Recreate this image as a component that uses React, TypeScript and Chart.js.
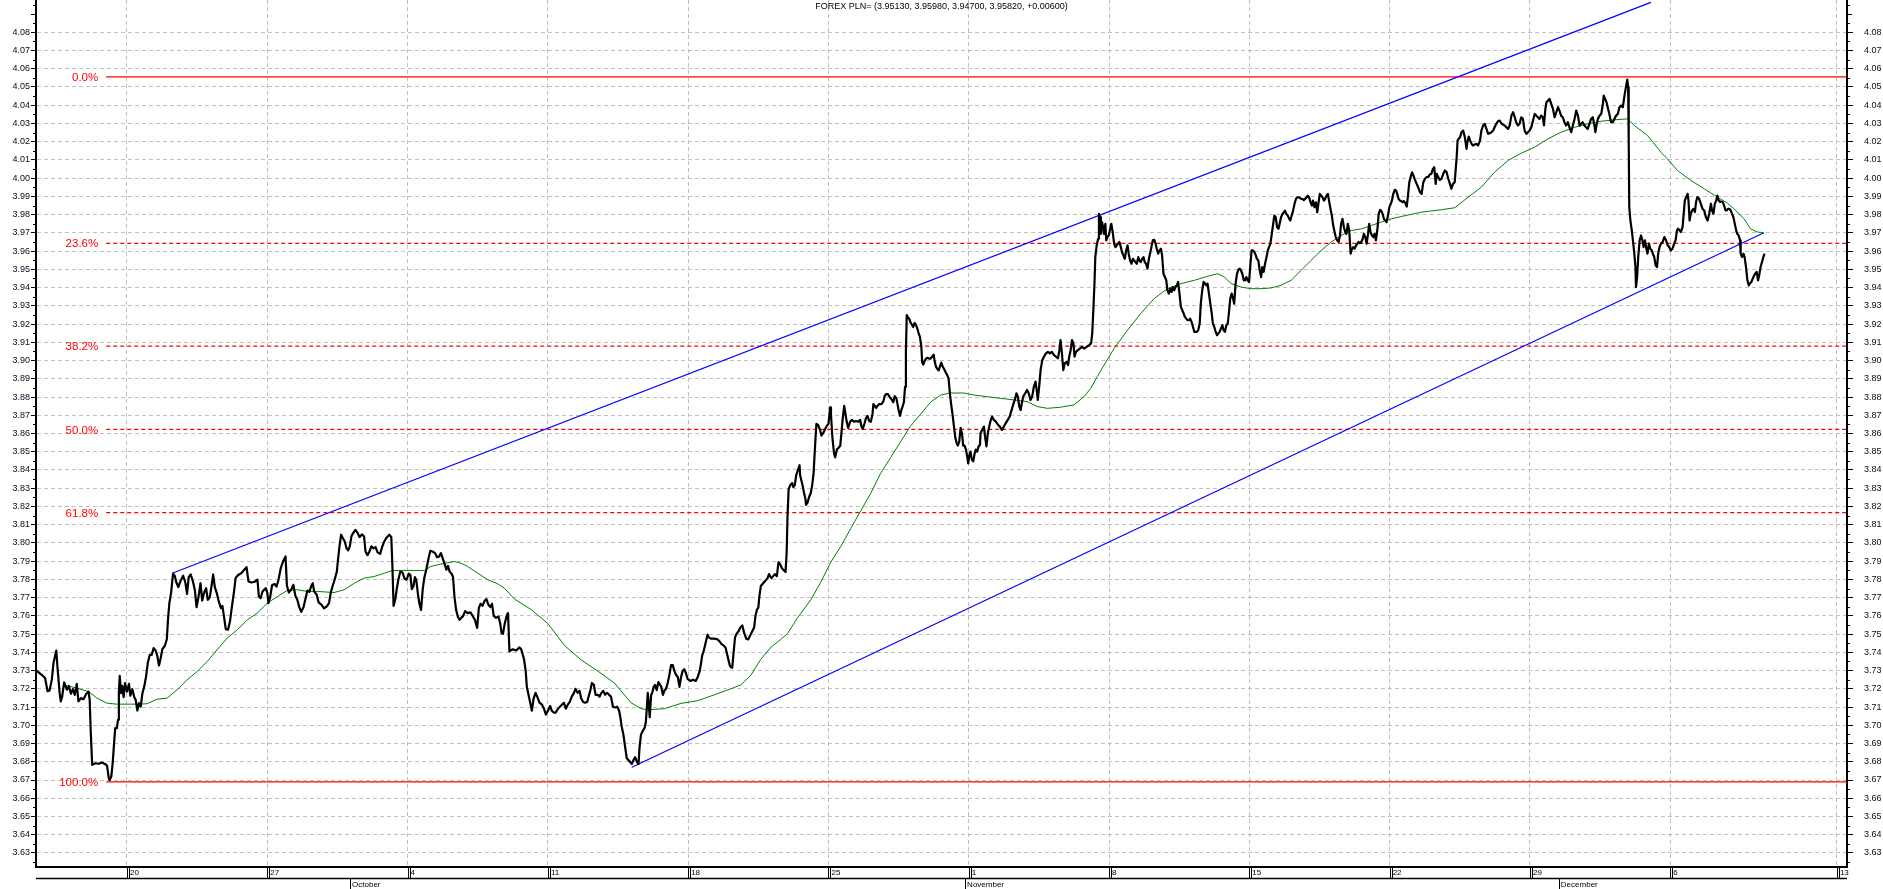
import React, { useEffect, useRef } from 'react';
import { Chart, registerables } from 'chart.js';

Chart.register(...registerables);

// ---- chart data (x = trading days from Monday 20 Sep, y = EUR/PLN rate) ----
const TITLE = 'FOREX PLN= (3.95130, 3.95980, 3.94700, 3.95820, +0.00600)';
const X_MIN = -3.243;
const X_MAX = 61.3;
const Y_MIN = 3.6223;
const Y_MAX = 4.0977;

const WEEK_TICKS = [0, 5, 10, 15, 20, 25, 30, 35, 40, 45, 50, 55, 60.94];
const WEEK_LABELS = ['20', '27', '4', '11', '18', '25', '1', '8', '15', '22', '29', '6', '13'];
const MONTH_TICKS = [7.95, 29.87, 51.03];
const MONTH_LABELS = ['October', 'November', 'December'];

const PRICE_TICKS = [
  3.63, 3.64, 3.65, 3.66, 3.67, 3.68, 3.69, 3.7, 3.71, 3.72, 3.73, 3.74, 3.75, 3.76, 3.77, 3.78,
  3.79, 3.8, 3.81, 3.82, 3.83, 3.84, 3.85, 3.86, 3.87, 3.88, 3.89, 3.9, 3.91, 3.92, 3.93, 3.94,
  3.95, 3.96, 3.97, 3.98, 3.99, 4.0, 4.01, 4.02, 4.03, 4.04, 4.05, 4.06, 4.07, 4.08,
];

const FIB_HIGH = 4.0555;
const FIB_LOW = 3.669;
const FIB_LEVELS = [0, 23.6, 38.2, 50, 61.8, 100];
const FIB_START = -0.74;

const UPPER_CHANNEL = [[1.61, 3.7834], [54.31, 4.0964]];
const LOWER_CHANNEL = [[17.99, 3.677], [58.34, 3.9701]];

const PRICE = [
  [-3.24,3.7301],[-3.04,3.7277],[-2.92,3.7259],[-2.83,3.7187],[-2.76,3.7191],[-2.68,3.7249],[-2.62,3.7341],[-2.52,3.741],[-2.48,3.7323],[-2.4,3.7176],[-2.36,3.7131],[-2.31,3.7158],[-2.24,3.7235],[-2.14,3.7195],[-2.07,3.7216],[-2.0,3.7173],[-1.93,3.7198],[-1.86,3.7167],[-1.79,3.7227],[-1.73,3.7131],[-1.64,3.7149],[-1.55,3.7143],[-1.45,3.7173],[-1.37,3.7185],[-1.33,3.714],[-1.29,3.6957],[-1.24,3.6783],[-1.13,3.6792],[-1.01,3.6789],[-0.89,3.6796],[-0.77,3.6787],[-0.71,3.6778],[-0.65,3.671],[-0.62,3.6699],[-0.56,3.6719],[-0.51,3.6792],[-0.46,3.6902],[-0.42,3.6984],[-0.36,3.6984],[-0.32,3.703],[-0.29,3.7176],[-0.26,3.7271],[-0.21,3.7176],[-0.17,3.7216],[-0.12,3.7154],[-0.07,3.7231],[0.0,3.7185],[0.07,3.7227],[0.12,3.7162],[0.19,3.7198],[0.26,3.7154],[0.31,3.714],[0.37,3.7081],[0.43,3.7121],[0.49,3.7103],[0.55,3.7176],[0.62,3.7216],[0.68,3.7268],[0.74,3.7341],[0.81,3.7386],[0.88,3.7386],[0.95,3.7423],[1.02,3.741],[1.08,3.7381],[1.14,3.7328],[1.2,3.7368],[1.26,3.7418],[1.35,3.7436],[1.42,3.7472],[1.46,3.7578],[1.51,3.767],[1.57,3.7725],[1.64,3.7831],[1.7,3.782],[1.76,3.7783],[1.83,3.7758],[1.9,3.7789],[2.0,3.782],[2.08,3.7783],[2.14,3.7721],[2.2,3.7812],[2.27,3.7827],[2.35,3.7789],[2.42,3.774],[2.48,3.7648],[2.55,3.7706],[2.62,3.7779],[2.68,3.7684],[2.75,3.7728],[2.82,3.7752],[2.88,3.7688],[2.95,3.7702],[3.01,3.7761],[3.07,3.7827],[3.13,3.7758],[3.2,3.7725],[3.27,3.7679],[3.35,3.7642],[3.4,3.7655],[3.46,3.7593],[3.52,3.7527],[3.6,3.7524],[3.67,3.7569],[3.74,3.7652],[3.81,3.7728],[3.87,3.7807],[3.95,3.7823],[4.07,3.7834],[4.18,3.7853],[4.26,3.7867],[4.33,3.7789],[4.43,3.7783],[4.55,3.7787],[4.65,3.7798],[4.7,3.7706],[4.76,3.7697],[4.83,3.7734],[4.94,3.7752],[5.0,3.7728],[5.04,3.767],[5.1,3.7702],[5.17,3.7768],[5.26,3.7775],[5.33,3.7761],[5.4,3.7798],[5.48,3.7862],[5.56,3.7898],[5.65,3.7926],[5.7,3.7765],[5.77,3.7728],[5.86,3.7747],[5.93,3.777],[6.0,3.771],[6.07,3.7688],[6.14,3.7648],[6.21,3.7622],[6.29,3.7648],[6.36,3.7692],[6.43,3.7739],[6.5,3.7732],[6.57,3.7765],[6.62,3.7779],[6.67,3.7734],[6.76,3.7716],[6.83,3.7674],[6.93,3.7661],[7.02,3.7641],[7.12,3.7652],[7.2,3.767],[7.26,3.7725],[7.33,3.7765],[7.4,3.7798],[7.48,3.7844],[7.52,3.7908],[7.57,3.7977],[7.63,3.8045],[7.69,3.8027],[7.76,3.8008],[7.82,3.7972],[7.88,3.7959],[7.94,3.7981],[8.0,3.8036],[8.06,3.8054],[8.14,3.8072],[8.21,3.8057],[8.29,3.8032],[8.37,3.8047],[8.45,3.8035],[8.5,3.7953],[8.57,3.7933],[8.64,3.7953],[8.71,3.7981],[8.79,3.797],[8.86,3.7977],[8.93,3.7948],[9.02,3.794],[9.1,3.7981],[9.17,3.8008],[9.24,3.8027],[9.35,3.8045],[9.42,3.8032],[9.46,3.7871],[9.5,3.7655],[9.56,3.7688],[9.61,3.7743],[9.67,3.7798],[9.74,3.7842],[9.82,3.7838],[9.89,3.7805],[9.96,3.7798],[10.04,3.7831],[10.1,3.7825],[10.15,3.7747],[10.21,3.7761],[10.26,3.7812],[10.31,3.7798],[10.38,3.7706],[10.43,3.7661],[10.48,3.7633],[10.54,3.7747],[10.6,3.7812],[10.67,3.7856],[10.74,3.7911],[10.81,3.7957],[10.89,3.7953],[10.98,3.7944],[11.05,3.7922],[11.12,3.7925],[11.19,3.7944],[11.26,3.7911],[11.32,3.7885],[11.38,3.7853],[11.44,3.7874],[11.5,3.7842],[11.57,3.7831],[11.62,3.7812],[11.67,3.7706],[11.73,3.7633],[11.79,3.7597],[11.85,3.7578],[11.9,3.7587],[11.98,3.76],[12.05,3.7626],[12.14,3.7615],[12.24,3.7619],[12.33,3.7597],[12.4,3.7578],[12.48,3.7534],[12.54,3.7644],[12.6,3.7666],[12.67,3.7655],[12.74,3.7681],[12.81,3.7692],[12.88,3.7661],[12.95,3.7648],[13.01,3.7666],[13.07,3.76],[13.15,3.7589],[13.24,3.7597],[13.3,3.756],[13.35,3.7505],[13.4,3.7502],[13.46,3.7556],[13.54,3.7606],[13.58,3.7615],[13.63,3.7405],
  [13.67,3.741],[13.75,3.7417],[13.87,3.741],[13.99,3.7427],[14.05,3.7417],[14.15,3.7362],[14.21,3.7297],[14.25,3.7211],[14.31,3.7167],[14.37,3.7124],[14.43,3.708],[14.49,3.7146],[14.56,3.7178],[14.62,3.7157],[14.7,3.7124],[14.79,3.7113],[14.86,3.7091],[14.93,3.7059],[15.0,3.708],[15.08,3.7106],[15.14,3.708],[15.21,3.707],[15.28,3.707],[15.36,3.7091],[15.43,3.7102],[15.5,3.7113],[15.57,3.7124],[15.64,3.7091],[15.71,3.7113],[15.78,3.7128],[15.85,3.7157],[15.93,3.7178],[15.98,3.72],[16.06,3.7178],[16.13,3.7189],[16.19,3.7146],[16.26,3.7128],[16.33,3.7124],[16.4,3.7128],[16.45,3.7157],[16.51,3.7189],[16.57,3.7232],[16.64,3.7222],[16.7,3.7167],[16.78,3.7167],[16.84,3.7157],[16.91,3.7178],[16.97,3.7189],[17.04,3.7167],[17.11,3.7178],[17.18,3.7167],[17.25,3.7157],[17.32,3.7102],[17.4,3.7098],[17.47,3.7102],[17.54,3.708],[17.59,3.7037],[17.63,3.6994],[17.69,3.695],[17.75,3.6885],[17.81,3.682],[17.87,3.6809],[17.94,3.6798],[17.99,3.6788],[18.05,3.6809],[18.11,3.6825],[18.18,3.6798],[18.23,3.6788],[18.27,3.6885],[18.32,3.695],[18.39,3.6972],[18.44,3.6983],[18.49,3.7015],[18.52,3.708],[18.56,3.7178],[18.59,3.7124],[18.63,3.7045],[18.68,3.7167],[18.72,3.7178],[18.77,3.7211],[18.82,3.7222],[18.88,3.7193],[18.94,3.7237],[19.0,3.7222],[19.04,3.7211],[19.1,3.7167],[19.15,3.7189],[19.21,3.72],[19.27,3.7232],[19.33,3.7276],[19.39,3.733],[19.45,3.733],[19.51,3.7297],[19.57,3.7276],[19.63,3.7265],[19.69,3.7211],[19.74,3.7259],[19.8,3.7297],[19.86,3.7308],[19.92,3.7287],[19.98,3.7254],[20.08,3.7243],[20.17,3.725],[20.27,3.7243],[20.34,3.7265],[20.41,3.7297],[20.46,3.7341],[20.5,3.7384],[20.55,3.7406],[20.6,3.7438],[20.65,3.7471],[20.69,3.7497],[20.74,3.7482],[20.81,3.7475],[20.93,3.7475],[21.05,3.7471],[21.12,3.746],[21.19,3.7445],[21.26,3.7438],[21.33,3.7427],[21.38,3.7395],[21.43,3.7362],[21.48,3.733],[21.52,3.7319],[21.57,3.7315],[21.61,3.7384],[21.67,3.7482],[21.73,3.7504],[21.79,3.7514],[21.86,3.7536],[21.93,3.7547],[22.0,3.7504],[22.07,3.7475],[22.14,3.7471],[22.21,3.7493],[22.28,3.7514],[22.35,3.7536],[22.4,3.7601],[22.45,3.7634],[22.5,3.7645],[22.54,3.771],[22.59,3.7764],[22.65,3.7775],[22.71,3.7786],[22.77,3.7796],[22.83,3.7807],[22.88,3.7829],[22.92,3.7818],[22.97,3.7807],[23.03,3.7818],[23.09,3.7829],[23.16,3.7818],[23.22,3.7894],[23.28,3.7883],[23.34,3.7862],[23.4,3.7851],[23.47,3.784],[23.51,3.7948],[23.54,3.8144],[23.58,3.8295],[23.64,3.8317],[23.71,3.8328],[23.75,3.8306],[23.8,3.8317],[23.85,3.8371],[23.92,3.8404],[23.97,3.8426],[23.99,3.8371],[24.04,3.8339],[24.09,3.8306],[24.13,3.8274],[24.18,3.8241],[24.2,3.8208],[24.25,3.8219],[24.31,3.8252],[24.37,3.8274],[24.42,3.8317],[24.47,3.8382],[24.5,3.8469],[24.54,3.8578],[24.57,3.8653],[24.63,3.8647],[24.7,3.862],[24.75,3.8589],[24.8,3.8599],[24.87,3.862],[24.94,3.8642],[25.0,3.8653],[25.06,3.8743],[25.09,3.8704],[25.14,3.8578],[25.2,3.849],[25.24,3.8469],[25.3,3.8512],[25.36,3.8522],[25.42,3.8533],[25.46,3.8599],[25.51,3.8686],[25.56,3.8752],[25.61,3.8704],[25.65,3.8664],[25.7,3.8631],[25.77,3.8664],[25.84,3.8675],[25.91,3.8664],[25.98,3.8669],[26.06,3.8664],[26.13,3.8675],[26.17,3.8642],[26.22,3.8625],[26.28,3.8653],[26.34,3.8686],[26.39,3.8697],[26.45,3.8669],[26.51,3.8664],[26.57,3.8707],[26.6,3.8761],[26.65,3.8751],[26.7,3.874],[26.74,3.8751],[26.81,3.8761],[26.89,3.8761],[26.96,3.8777],[27.0,3.8805],[27.05,3.8816],[27.12,3.8816],[27.19,3.8798],[27.27,3.8783],[27.31,3.8772],[27.36,3.8805],[27.42,3.8794],[27.46,3.8761],[27.5,3.8729],[27.55,3.8697],[27.6,3.8729],[27.65,3.8751],[27.69,3.8774],[27.73,3.8856],[27.76,3.9054],[27.79,3.9249],[27.83,3.9238],[27.88,3.9228],[27.93,3.9206],[27.98,3.9195],[28.02,3.9184],[28.07,3.9206],[28.12,3.9195],[28.17,3.9174],[28.21,3.9152],[28.26,3.913],[28.31,3.9076],[28.34,3.8989],[28.38,3.8978],[28.43,3.9],[28.48,3.9011],[28.52,3.9015],[28.58,3.9011],[28.64,3.9011],[28.7,3.9022],[28.75,3.9032],[28.78,3.9],[28.83,3.8967],[28.88,3.8954],[28.93,3.8946],[28.97,3.8967],[29.02,3.8989],[29.07,3.8967],[29.12,3.8954],[29.18,3.8935],[29.23,3.8921],[29.28,3.8902],[29.33,3.8816],[29.38,3.8751],[29.42,3.8707],[29.47,3.8642],[29.52,3.8578],[29.57,3.8546],[29.61,3.8534],[29.66,3.8556],[29.71,3.8631],[29.76,3.8599],[29.8,3.8534],[29.85,3.8534],[29.9,3.8512],[29.95,3.8469],[29.98,3.8436],[30.03,3.849],[30.06,3.8501],[30.11,3.8457],[30.16,3.8447],[30.21,3.849],[30.25,3.8512],[30.3,3.8501],[30.35,3.8529],[30.4,3.8538],
  [30.42,3.8602],[30.48,3.862],[30.54,3.8638],[30.58,3.8584],[30.63,3.8529],[30.68,3.8602],[30.73,3.8638],[30.77,3.8666],[30.83,3.8693],[30.89,3.8675],[30.96,3.8666],[31.04,3.8648],[31.11,3.8638],[31.18,3.862],[31.25,3.8638],[31.32,3.8657],[31.39,3.8675],[31.46,3.8693],[31.51,3.872],[31.58,3.8757],[31.64,3.8784],[31.7,3.882],[31.75,3.8802],[31.8,3.8748],[31.85,3.8729],[31.89,3.8766],[31.94,3.8802],[32.01,3.882],[32.08,3.8839],[32.14,3.882],[32.2,3.8784],[32.26,3.8802],[32.32,3.8857],[32.38,3.8884],[32.42,3.8839],[32.46,3.8784],[32.51,3.8857],[32.56,3.8948],[32.62,3.9002],[32.68,3.9021],[32.75,3.9039],[32.82,3.9048],[32.89,3.9039],[32.96,3.9048],[33.04,3.903],[33.11,3.9021],[33.18,3.9012],[33.23,3.9057],[33.27,3.9112],[33.32,3.9039],[33.37,3.8948],[33.42,3.8984],[33.49,3.8993],[33.54,3.8975],[33.58,3.9021],[33.63,3.9057],[33.68,3.9112],[33.73,3.9094],[33.77,3.9021],[33.82,3.9048],[33.89,3.9057],[33.96,3.9066],[34.04,3.9075],[34.11,3.9066],[34.2,3.9075],[34.29,3.9085],[34.36,3.9094],[34.4,3.9148],[34.44,3.9276],[34.48,3.9422],[34.51,3.9567],[34.56,3.9631],[34.61,3.9668],[34.64,3.9804],[34.68,3.9786],[34.71,3.9695],[34.75,3.9759],[34.79,3.9731],[34.82,3.9695],[34.87,3.975],[34.9,3.9659],[34.94,3.9677],[34.99,3.9686],[35.04,3.9722],[35.08,3.975],[35.13,3.9704],[35.18,3.9641],[35.23,3.9622],[35.27,3.9631],[35.32,3.9641],[35.37,3.965],[35.42,3.9622],[35.46,3.9595],[35.51,3.9577],[35.56,3.9558],[35.61,3.9604],[35.66,3.9631],[35.7,3.9586],[35.75,3.9549],[35.8,3.9531],[35.85,3.9558],[35.89,3.9549],[35.94,3.954],[35.99,3.9531],[36.04,3.9567],[36.08,3.9549],[36.13,3.954],[36.18,3.9558],[36.23,3.9567],[36.27,3.954],[36.32,3.9531],[36.37,3.9504],[36.42,3.9558],[36.46,3.9586],[36.51,3.9622],[36.56,3.9659],[36.61,3.9662],[36.66,3.9641],[36.7,3.9613],[36.75,3.9586],[36.8,3.9604],[36.85,3.9613],[36.89,3.9577],[36.94,3.9476],[36.99,3.9458],[37.04,3.944],[37.08,3.9385],[37.13,3.9367],[37.18,3.9394],[37.23,3.9376],[37.27,3.9403],[37.32,3.9385],[37.37,3.9403],[37.42,3.9413],[37.46,3.9431],[37.51,3.9367],[37.56,3.9294],[37.61,3.9276],[37.66,3.9258],[37.7,3.924],[37.75,3.923],[37.8,3.9221],[37.85,3.9221],[37.89,3.923],[37.94,3.9212],[37.99,3.9185],[38.04,3.9157],[38.08,3.9157],[38.13,3.9157],[38.18,3.9167],[38.23,3.9203],[38.27,3.9312],[38.32,3.9385],[38.37,3.9431],[38.42,3.9422],[38.46,3.9413],[38.51,3.9422],[38.56,3.9367],[38.61,3.9312],[38.66,3.9258],[38.7,3.9203],[38.75,3.9185],[38.8,3.9157],[38.85,3.9139],[38.89,3.9148],[38.94,3.9157],[38.99,3.9176],[39.04,3.9194],[39.08,3.9167],[39.13,3.9157],[39.18,3.9194],[39.23,3.9203],[39.27,3.9258],[39.32,3.934],[39.37,3.9367],[39.42,3.934],[39.46,3.9312],[39.51,3.9422],[39.56,3.9476],[39.61,3.9498],[39.66,3.9504],[39.7,3.9495],[39.75,3.9476],[39.8,3.944],[39.85,3.944],[39.89,3.9458],[39.94,3.944],[39.99,3.9431],[40.04,3.9531],[40.08,3.9604],[40.13,3.9604],[40.18,3.9595],[40.23,3.9577],[40.27,3.9558],[40.32,3.9549],[40.37,3.9495],[40.42,3.9458],[40.46,3.9513],[40.51,3.9486],[40.56,3.9531],[40.61,3.9567],[40.66,3.9604],[40.7,3.9622],[40.75,3.9641],[40.8,3.9695],[40.85,3.975],[40.89,3.9795],[40.94,3.9786],[40.99,3.9731],[41.04,3.9722],[41.08,3.975],[41.13,3.9786],[41.18,3.9804],[41.23,3.9813],[41.27,3.9822],[41.32,3.9804],[41.37,3.9795],[41.42,3.9777],[41.46,3.9768],[41.51,3.9795],[41.56,3.9822],[41.61,3.9859],[41.66,3.9886],[41.7,3.9895],[41.75,3.9895],[41.8,3.9892],[41.85,3.9886],[41.89,3.9886],[41.94,3.988],[41.99,3.9886],[42.04,3.9895],[42.08,3.9904],[42.13,3.9895],[42.18,3.9868],[42.23,3.985],[42.27,3.9877],[42.32,3.9841],[42.37,3.9868],[42.42,3.9813],[42.46,3.9859],[42.51,3.9914],[42.56,3.9904],[42.61,3.9895],[42.66,3.9877],[42.7,3.9886],[42.75,3.9904],[42.8,3.9914],[42.85,3.9868],[42.89,3.9832],[42.94,3.9795],[42.99,3.974],[43.04,3.9704],[43.08,3.9677],[43.13,3.9659],[43.18,3.965],[43.23,3.9686],[43.27,3.975],[43.32,3.9777],[43.37,3.9731],[43.42,3.9704],[43.46,3.9695],[43.51,3.975],[43.56,3.9713],[43.61,3.9586],[43.66,3.9613],[43.7,3.9622],[43.75,3.9613],[43.8,3.9631],[43.85,3.9641],[43.89,3.965],[43.94,3.9644],[43.99,3.965],[44.04,3.9668],[44.08,3.9695],[44.13,3.9677],[44.18,3.9641],[44.23,3.9695],[44.27,3.975],[44.32,3.9704],[44.37,3.9686],[44.42,3.9677],[44.46,3.9695],[44.51,3.9659],[44.56,3.9713],[44.61,3.9804],[44.66,3.9826],[44.7,3.9822],[44.75,3.9804],[44.8,3.9775],[44.85,3.9768],[44.89,3.9759],[44.94,3.9795],[44.99,3.9841],[45.04,3.9859],[45.08,3.9877],[45.13,3.9914],[45.18,3.9936],[45.23,3.9932],[45.27,3.9914],[45.32,3.9886],[45.37,3.9877],[45.42,3.9874],[45.46,3.9868],[45.51,3.9874],[45.56,3.9863],[45.61,3.9844],[45.66,3.9914],[45.7,3.9977],[45.75,4.0008],[45.8,4.0032],[45.85,4.0014],[45.89,3.9996],[45.94,3.9977],[45.99,3.9959],[46.04,3.9941],[46.08,3.9923],
  [46.14,3.9914],[46.2,3.9978],[46.26,3.9997],[46.32,4.0006],[46.37,4.0006],[46.43,4.002],[46.49,4.0024],[46.54,4.0051],[46.59,4.006],[46.64,3.9969],[46.68,4.0024],[46.73,4.0006],[46.79,3.9991],[46.85,3.9997],[46.91,4.0024],[46.97,4.0042],[47.03,4.0033],[47.09,3.9997],[47.15,3.9969],[47.2,3.9942],[47.26,3.9969],[47.32,3.9978],[47.36,4.006],[47.39,4.0115],[47.42,4.0206],[47.46,4.0216],[47.51,4.0225],[47.56,4.0252],[47.62,4.0261],[47.68,4.0225],[47.74,4.0161],[47.77,4.0197],[47.82,4.0228],[47.87,4.0206],[47.92,4.0188],[47.97,4.0179],[48.03,4.0185],[48.09,4.0188],[48.15,4.0179],[48.22,4.0206],[48.27,4.0261],[48.33,4.0289],[48.39,4.0298],[48.45,4.027],[48.51,4.0243],[48.57,4.0247],[48.63,4.0252],[48.69,4.0261],[48.74,4.0279],[48.8,4.0298],[48.86,4.0312],[48.92,4.0316],[48.98,4.0301],[49.04,4.0294],[49.1,4.0289],[49.16,4.0279],[49.22,4.027],[49.28,4.0289],[49.34,4.0343],[49.4,4.0362],[49.46,4.0334],[49.51,4.0307],[49.57,4.0289],[49.63,4.0298],[49.69,4.0334],[49.75,4.0325],[49.81,4.0261],[49.87,4.0243],[49.93,4.0252],[49.99,4.0261],[50.05,4.0279],[50.11,4.0316],[50.17,4.0352],[50.23,4.0343],[50.28,4.0334],[50.34,4.0325],[50.4,4.0343],[50.46,4.0334],[50.5,4.0289],[50.55,4.038],[50.59,4.0416],[50.64,4.0425],[50.7,4.0435],[50.76,4.0407],[50.82,4.038],[50.88,4.0334],[50.94,4.0362],[51.0,4.0389],[51.05,4.0371],[51.11,4.0343],[51.17,4.0334],[51.23,4.0307],[51.29,4.0289],[51.35,4.0307],[51.41,4.0279],[51.47,4.0252],[51.53,4.0289],[51.59,4.0325],[51.65,4.0371],[51.71,4.0343],[51.77,4.0289],[51.82,4.0298],[51.88,4.0307],[51.94,4.0289],[52.0,4.0279],[52.06,4.027],[52.12,4.0298],[52.18,4.0325],[52.24,4.0334],[52.3,4.0289],[52.33,4.0252],[52.37,4.0289],[52.42,4.0325],[52.48,4.0343],[52.54,4.0352],[52.6,4.0407],[52.63,4.0453],[52.68,4.0435],[52.73,4.0416],[52.77,4.0389],[52.83,4.0352],[52.89,4.0307],[52.95,4.0307],[53.01,4.0325],[53.07,4.0343],[53.13,4.0352],[53.19,4.0389],[53.25,4.0398],[53.31,4.0389],[53.37,4.0453],[53.4,4.048],[53.44,4.0517],[53.47,4.054],[53.5,4.0498],[53.52,4.0206],[53.54,3.9841],[53.58,3.9768],[53.63,3.9714],[53.67,3.9659],[53.72,3.9586],[53.76,3.9513],[53.78,3.9403],[53.82,3.9458],[53.86,3.9568],[53.91,3.9659],[53.96,3.9686],[54.01,3.9659],[54.05,3.9622],[54.1,3.9659],[54.15,3.9613],[54.19,3.9586],[54.24,3.9641],[54.29,3.9613],[54.34,3.9604],[54.38,3.9586],[54.43,3.9568],[54.48,3.9522],[54.53,3.9513],[54.57,3.9586],[54.62,3.9622],[54.67,3.9641],[54.73,3.965],[54.79,3.9677],[54.85,3.9659],[54.91,3.9632],[54.96,3.9623],[55.02,3.9604],[55.08,3.9613],[55.14,3.9641],[55.19,3.9659],[55.24,3.9714],[55.28,3.9723],[55.33,3.9714],[55.38,3.9705],[55.44,3.9732],[55.47,3.9787],[55.52,3.9878],[55.57,3.9896],[55.62,3.9914],[55.65,3.9878],[55.69,3.9768],[55.73,3.9805],[55.78,3.9823],[55.83,3.9832],[55.88,3.9814],[55.92,3.9869],[55.97,3.9896],[56.03,3.9887],[56.09,3.986],[56.15,3.9832],[56.21,3.9823],[56.27,3.9787],[56.33,3.9768],[56.39,3.9805],[56.45,3.986],[56.49,3.9823],[56.54,3.9805],[56.59,3.986],[56.64,3.9878],[56.68,3.9905],[56.73,3.9878],[56.78,3.9869],[56.82,3.9872],[56.87,3.9869],[56.92,3.9851],[56.97,3.9823],[57.01,3.9823],[57.06,3.9832],[57.11,3.9832],[57.16,3.9823],[57.2,3.9805],[57.25,3.9787],[57.3,3.975],[57.35,3.9714],[57.39,3.9695],[57.44,3.9686],[57.49,3.9659],[57.51,3.9586],[57.56,3.9568],[57.61,3.9586],[57.65,3.9568],[57.7,3.9513],[57.75,3.944],[57.8,3.9412],[57.84,3.9422],[57.89,3.9431],[57.94,3.9449],[57.99,3.9467],[58.03,3.9477],[58.08,3.9486],[58.13,3.944],[58.17,3.9467],[58.22,3.9513],[58.27,3.954],[58.32,3.9568],[58.36,3.9586],
];

const MOVING_AVG = [
  [-2.26,3.7222],[-1.79,3.7204],[-1.37,3.7185],[-1.07,3.7149],[-0.71,3.7121],[-0.36,3.7116],[0.36,3.7116],[0.71,3.7118],[1.07,3.7143],[1.43,3.7149],[1.79,3.7195],[2.14,3.7249],[2.5,3.7295],[2.86,3.735],[3.21,3.7414],[3.57,3.7478],[3.93,3.7524],[4.29,3.7578],[4.64,3.7615],[5.0,3.767],[5.36,3.7706],[5.71,3.7739],[6.07,3.7743],[6.43,3.7734],[6.79,3.7734],[7.38,3.7728],[7.74,3.7743],[8.1,3.7779],[8.45,3.7807],[8.81,3.7816],[9.17,3.7834],[9.46,3.7849],[10.6,3.7849],[10.83,3.7871],[11.19,3.7884],[11.67,3.7898],[11.9,3.7889],[12.14,3.7871],[12.5,3.7834],[12.86,3.7798],[13.21,3.7776],[13.45,3.7752],[13.81,3.7692],[14.41,3.7634],[15.0,3.7558],[15.59,3.7438],[16.19,3.7358],[16.78,3.7297],[17.37,3.7232],[17.96,3.7124],[18.32,3.7091],[18.56,3.7085],[19.15,3.7091],[19.74,3.712],[20.34,3.7135],[20.93,3.7167],[21.52,3.72],[21.88,3.7222],[22.24,3.7276],[22.59,3.7362],[22.95,3.7428],[23.3,3.7471],[23.54,3.7503],[23.9,3.759],[24.37,3.7688],[24.73,3.7786],[25.08,3.7894],[25.44,3.7981],[25.79,3.8078],[26.15,3.8176],[26.51,3.8273],[26.86,3.8382],[27.22,3.8469],[27.57,3.8555],[27.93,3.8642],[28.29,3.8707],[28.64,3.8772],[29.0,3.8811],[29.35,3.8822],[29.83,3.8822],[30.18,3.8811],[30.66,3.8802],[31.13,3.8793],[31.61,3.8784],[32.08,3.8775],[32.44,3.8748],[32.8,3.8738],[33.27,3.8744],[33.75,3.8757],[34.11,3.8802],[34.35,3.8848],[34.58,3.8912],[34.82,3.8975],[35.18,3.9066],[35.66,3.9167],[36.13,3.9258],[36.61,3.934],[37.08,3.9394],[37.56,3.9422],[38.04,3.944],[38.51,3.9462],[38.87,3.9476],[39.11,3.9458],[39.35,3.9422],[39.7,3.9403],[40.06,3.9394],[40.42,3.9394],[40.77,3.9398],[41.13,3.9413],[41.49,3.944],[41.85,3.9495],[42.2,3.9549],[42.56,3.9604],[42.92,3.965],[43.27,3.9686],[43.63,3.9713],[43.99,3.9722],[44.35,3.9741],[44.7,3.9759],[45.06,3.9777],[45.42,3.979],[46.14,3.9814],[46.85,3.9827],[47.32,3.9838],[47.8,3.9896],[48.27,3.9951],[48.74,4.0033],[49.22,4.0097],[49.69,4.0137],[50.17,4.017],[50.64,4.0216],[51.11,4.0252],[51.59,4.0279],[52.06,4.0298],[52.53,4.0312],[53.01,4.032],[53.48,4.0325],[53.72,4.0289],[54.19,4.0234],[54.67,4.0142],[54.9,4.0106],[55.26,4.0042],[55.73,3.9988],[56.21,3.9942],[56.68,3.9896],[57.04,3.9863],[57.27,3.9832],[57.63,3.9778],[57.86,3.9723],[58.1,3.9705],[58.34,3.9701],
];

const toPoints = (pairs: number[][]) => pairs.map(([x, y]) => ({ x, y }));
const fibValue = (pct: number) => FIB_HIGH - (pct / 100) * (FIB_HIGH - FIB_LOW);

const FONT = 'Arial, "Liberation Sans", sans-serif';

const decorPlugin = {
  id: 'decor',
  afterDraw(chart: any) {
    const { ctx, chartArea, scales } = chart;
    const xs = scales.x;
    const ys = scales.y;
    ctx.save();

    // title
    ctx.font = `9px ${FONT}`;
    ctx.fillStyle = '#000';
    ctx.textAlign = 'center';
    ctx.textBaseline = 'middle';
    ctx.fillText(TITLE, (chartArea.left + chartArea.right) / 2, 7);

    // fibonacci labels
    ctx.font = `11.5px ${FONT}`;
    ctx.fillStyle = '#ff0000';
    ctx.textAlign = 'right';
    const lx = xs.getPixelForValue(FIB_START) - 8;
    FIB_LEVELS.forEach((p) => {
      ctx.fillText(`${p.toFixed(1)}%`, lx, ys.getPixelForValue(fibValue(p)) + 1);
    });

    // minor y ticks (half steps)
    ctx.strokeStyle = '#000';
    ctx.lineWidth = 1;
    ctx.beginPath();
    for (let i = -1; i < PRICE_TICKS.length + 1; i++) {
      const base = i < 0 ? PRICE_TICKS[0] - 0.01 : i >= PRICE_TICKS.length ? PRICE_TICKS[PRICE_TICKS.length - 1] + 0.01 : PRICE_TICKS[i];
      [0.005, i >= PRICE_TICKS.length ? 0 : -1].forEach((off) => {
        if (off < 0) return;
        const py = Math.round(ys.getPixelForValue(base + off)) + 0.5;
        if (py < chartArea.top || py > chartArea.bottom) return;
        const len = off === 0 ? 5 : 3;
        ctx.moveTo(chartArea.left - len, py);
        ctx.lineTo(chartArea.left, py);
        ctx.moveTo(chartArea.right, py);
        ctx.lineTo(chartArea.right + len, py);
      });
    }
    ctx.stroke();

    // bottom date band
    const b = chartArea.bottom;
    const bandBottom = b + 11.5;
    const full = chart.height;
    ctx.lineWidth = 1.5;
    ctx.beginPath();
    ctx.moveTo(chartArea.left, bandBottom);
    ctx.lineTo(chartArea.right, bandBottom);
    ctx.stroke();
    ctx.lineWidth = 1;
    ctx.beginPath();
    WEEK_TICKS.forEach((t) => {
      const px = Math.round(xs.getPixelForValue(t)) + 0.5;
      ctx.moveTo(px, b);
      ctx.lineTo(px, bandBottom);
      ctx.moveTo(px + 2, b);
      ctx.lineTo(px + 2, bandBottom);
    });
    MONTH_TICKS.forEach((t) => {
      const px = Math.round(xs.getPixelForValue(t)) + 0.5;
      ctx.moveTo(px, bandBottom);
      ctx.lineTo(px, full);
    });
    ctx.stroke();

    ctx.font = `8px ${FONT}`;
    ctx.fillStyle = '#000';
    ctx.textAlign = 'left';
    ctx.textBaseline = 'middle';
    MONTH_TICKS.forEach((t, i) => {
      ctx.fillText(MONTH_LABELS[i], xs.getPixelForValue(t) + 2, bandBottom + 6);
    });

    ctx.restore();
  },
};

export default function App() {
  const ref = useRef<HTMLCanvasElement | null>(null);

  useEffect(() => {
    document.body.style.margin = '0';
    const canvas = ref.current;
    if (!canvas) return;

    const fibSets = FIB_LEVELS.map((p) => {
      const solid = p === 0 || p === 100;
      return {
        label: `fib ${p}`,
        data: [
          { x: FIB_START, y: fibValue(p) },
          { x: X_MAX, y: fibValue(p) },
        ],
        borderColor: '#ff0000',
        borderWidth: solid ? 1.3 : 1.2,
        borderDash: solid ? [] : [4, 3],
        pointRadius: 0,
        order: 4,
      };
    });

    const yTicks = (s: any) => {
      s.ticks = PRICE_TICKS.map((v) => ({ value: v }));
    };

    const chart = new Chart(canvas, {
      type: 'line',
      data: {
        datasets: [
          {
            label: 'PLN=',
            data: toPoints(PRICE),
            borderColor: '#000000',
            borderWidth: 2.2,
            borderJoinStyle: 'round',
            pointRadius: 0,
            tension: 0,
            order: 0,
          },
          {
            label: 'MA',
            data: toPoints(MOVING_AVG),
            borderColor: '#008000',
            borderWidth: 1,
            pointRadius: 0,
            tension: 0,
            order: 1,
          },
          {
            label: 'upper',
            data: toPoints(UPPER_CHANNEL),
            borderColor: '#0000ff',
            borderWidth: 1.2,
            pointRadius: 0,
            order: 2,
          },
          {
            label: 'lower',
            data: toPoints(LOWER_CHANNEL),
            borderColor: '#0000ff',
            borderWidth: 1.2,
            pointRadius: 0,
            order: 2,
          },
          ...fibSets,
        ] as any,
      },
      options: {
        responsive: false,
        animation: false,
        devicePixelRatio: 1,
        events: [],
        layout: { padding: 0 },
        plugins: {
          legend: { display: false },
          tooltip: { enabled: false },
          title: { display: false },
        },
        scales: {
          x: {
            type: 'linear',
            position: 'bottom',
            min: X_MIN,
            max: X_MAX,
            afterBuildTicks: (s: any) => {
              s.ticks = WEEK_TICKS.map((v) => ({ value: v }));
            },
            afterFit: (s: any) => {
              s.height = 22;
              s.paddingLeft = 0;
              s.paddingRight = 0;
            },
            ticks: {
              autoSkip: false,
              maxRotation: 0,
              minRotation: 0,
              align: 'start',
              labelOffset: 3,
              padding: 1,
              color: '#000',
              font: { family: FONT, size: 8 },
              callback: (_v: any, i: number) => WEEK_LABELS[i],
            },
            grid: { color: '#c0c0c0', lineWidth: 1, drawTicks: false },
            border: { display: true, color: '#000', width: 2, dash: [4, 3] },
          },
          y: {
            type: 'linear',
            position: 'left',
            min: Y_MIN,
            max: Y_MAX,
            afterBuildTicks: yTicks,
            afterFit: (s: any) => {
              s.width = 36;
              s.paddingTop = 0;
              s.paddingBottom = 0;
            },
            ticks: {
              autoSkip: false,
              padding: 1,
              color: '#0a0a20',
              font: { family: FONT, size: 9 },
              callback: (v: any) => Number(v).toFixed(2),
            },
            grid: { color: '#c0c0c0', lineWidth: 1, drawTicks: true, tickLength: 5, tickColor: '#000', tickWidth: 1 },
            border: { display: true, color: '#000', width: 2, dash: [4, 3] },
          },
          y2: {
            type: 'linear',
            position: 'right',
            min: Y_MIN,
            max: Y_MAX,
            afterBuildTicks: yTicks,
            afterFit: (s: any) => {
              s.width = 36;
              s.paddingTop = 0;
              s.paddingBottom = 0;
            },
            ticks: {
              autoSkip: false,
              padding: 11,
              color: '#0a0a20',
              font: { family: FONT, size: 9 },
              callback: (v: any) => Number(v).toFixed(2),
            },
            grid: { drawOnChartArea: false, drawTicks: true, tickLength: 6, tickColor: '#000', tickWidth: 1 },
            border: { display: true, color: '#000', width: 2 },
          },
        },
      } as any,
      plugins: [decorPlugin],
    });

    return () => chart.destroy();
  }, []);

  return <canvas ref={ref} width={1883} height={889} style={{ display: 'block' }} />;
}
